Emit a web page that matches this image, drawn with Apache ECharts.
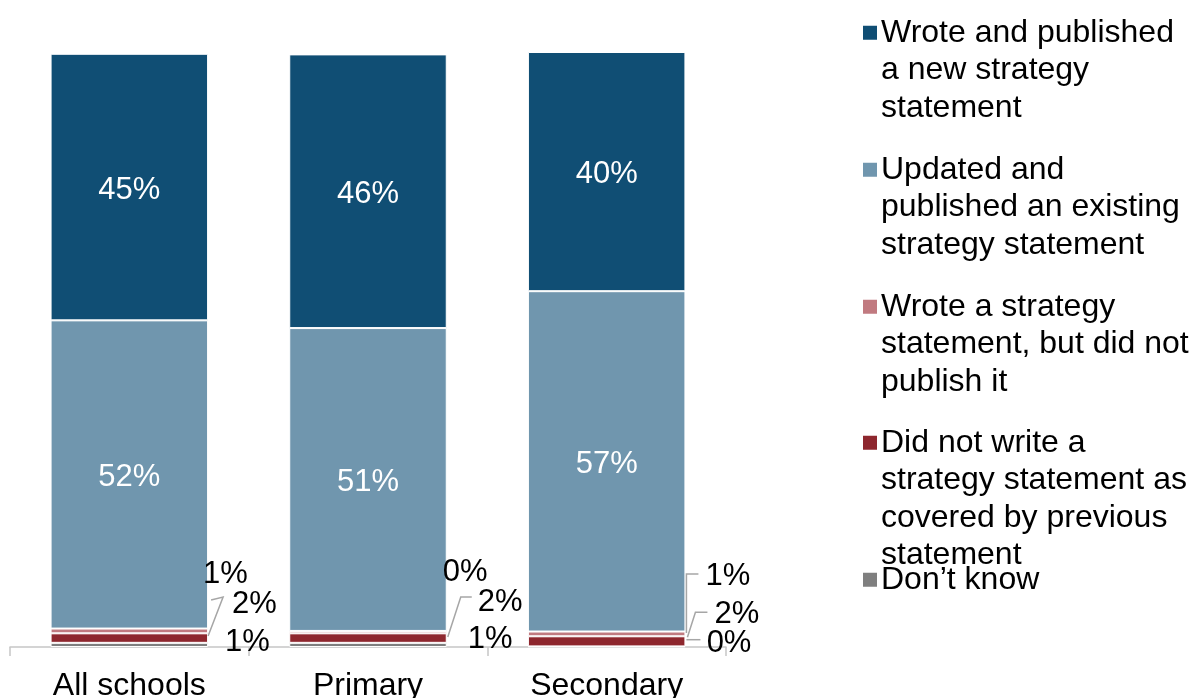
<!DOCTYPE html>
<html>
<head>
<meta charset="utf-8">
<script src="https://cdn.jsdelivr.net/npm/echarts@6/dist/echarts.min.js"></script>
<style>
  html, body { margin: 0; padding: 0; background: #ffffff; }
  #chart { width: 1192px; height: 698px; }
</style>
</head>
<body>
<div id="chart"></div>
<script>
// ---- data (percent of schools) ----
const categories = ['All schools', 'Primary', 'Secondary'];
const seriesNames = [
  'Wrote and published a new strategy statement',
  'Updated and published an existing strategy statement',
  'Wrote a strategy statement, but did not publish it',
  'Did not write a strategy statement as covered by previous statement',
  'Don\u2019t know'
];
const wroteNew          = [44.8, 46.0, 40.2];
const updatedExisting   = [51.8, 50.9, 57.2];
const wroteNotPublished = [0.8, 0.4, 0.8];
const didNotWrite       = [1.6, 1.6, 1.7];
const dontKnow          = [0.7, 0.7, 0.1];

// legend wording broken over lines
const legendLines = [
  ['Wrote and published', 'a new strategy', 'statement'],
  ['Updated and', 'published an existing', 'strategy statement'],
  ['Wrote a strategy', 'statement, but did not', 'publish it'],
  ['Did not write a', 'strategy statement as', 'covered by previous', 'statement'],
  ['Don\u2019t know']
];

const colors = ['#104E74', '#7096AE', '#C17A80', '#8E272E', '#7F7F7F'];
const FONT = '"Liberation Sans", Arial, sans-serif';

// small segments are labelled beside the bar: [dx from bar right edge, dy from segment middle]
const sideLabelOffsets = {
  wroteNotPublished: [[-5, -56], [-4, -60], [20, -57]],
  didNotWrite:       [[24, -34], [31, -36], [29, -27]],
  dontKnow:          [[17, -2], [21, -5], [21, -3]]
};
// leader line points in the same frame (null = no line)
const leaderBends = {
  wroteNotPublished: [null, null, [[1, -1], [1, -60], [13, -60]]],
  didNotWrite: [
    [[0, -2], [15, -41], [3, -38]],
    [[1, -1], [14, -41], [25, -41]],
    [[2, -4], [10, -29], [22, -29]]
  ],
  dontKnow: [null, null, [[1, -7], [15, -7]]]
};
// top edge of each legend entry
const legendTops = [16.75, 153.75, 290.75, 426.75, 563.75];

const BAR_FRACTION = 0.66;
const pct = v => Math.round(v) + '%';

function sideLayout(offsets) {
  return function (params) {
    const r = params.rect;
    const o = offsets[params.dataIndex];
    return {
      x: r.x + r.width + o[0],
      y: r.y + r.height / 2 + o[1],
      align: 'left',
      verticalAlign: 'middle'
    };
  };
}

const insideLabel = {
  show: true, position: 'inside', offset: [0, 3], color: '#ffffff',
  fontSize: 31, fontFamily: FONT, formatter: p => pct(p.value)
};
const sideLabel = {
  show: true, position: 'right', color: '#000000',
  fontSize: 31, fontFamily: FONT, formatter: p => pct(p.value)
};

function barSeries(name, values, color, label, layout) {
  const s = {
    name: name,
    type: 'bar',
    stack: 'total',
    barWidth: (BAR_FRACTION * 100) + '%',
    data: values,
    itemStyle: { color: color, borderColor: '#ffffff', borderWidth: 1 },
    label: label,
    emphasis: { disabled: true }
  };
  if (layout) s.labelLayout = layout;
  return s;
}

// stacked from the bottom up
const stackOrder = [
  { key: 'dontKnow', values: dontKnow },
  { key: 'didNotWrite', values: didNotWrite },
  { key: 'wroteNotPublished', values: wroteNotPublished }
];

// leader lines drawn from the same stacked values through the axes
function renderLeaders(params, api) {
  const i = api.value(0);
  const base = api.coord([i, 0]);
  const halfBar = api.size([1, 0])[0] * BAR_FRACTION / 2;
  const right = base[0] + halfBar;
  const children = [];
  let lower = 0;
  stackOrder.forEach(seg => {
    const upper = lower + seg.values[i];
    const cy = (api.coord([i, lower])[1] + api.coord([i, upper])[1]) / 2;
    const bend = leaderBends[seg.key][i];
    if (bend) {
      children.push({
        type: 'polyline',
        shape: { points: bend.map(p => [right + p[0], cy + p[1]]) },
        style: { stroke: '#A6A6A6', lineWidth: 1.5, fill: null }
      });
    }
    lower = upper;
  });
  return { type: 'group', children: children };
}

function legendFormatter(name) {
  const k = seriesNames.indexOf(name);
  return legendLines[k]
    .map((line, j) => (j === 0 ? '{m' + k + '|}' : '{s|}') + '{t|' + line + '}')
    .join('\n');
}

const legendRich = {
  s: { width: 14, lineHeight: 37.5 },
  t: { fontSize: 32, fontFamily: FONT, color: '#000000', lineHeight: 37.5, padding: [0, 0, 0, 4] }
};
colors.forEach((c, k) => {
  legendRich['m' + k] = { width: 14, height: 14, backgroundColor: c };
});

const legends = seriesNames.map((name, k) => ({
  orient: 'vertical',
  left: 857,
  top: legendTops[k],
  padding: 0,
  itemWidth: 0,
  itemHeight: 0,
  selectedMode: false,
  data: [name],
  formatter: legendFormatter,
  textStyle: { fontSize: 32, fontFamily: FONT, color: '#000000', rich: legendRich }
}));

const chart = echarts.init(document.getElementById('chart'), null, { renderer: 'canvas' });
chart.setOption({
  animation: false,
  backgroundColor: '#ffffff',
  grid: { left: 10, right: 466, top: 52, bottom: 51, containLabel: false, outerBoundsMode: 'none' },
  legend: legends,
  xAxis: {
    type: 'category',
    data: categories,
    axisLine: { lineStyle: { color: '#C6C6C6', width: 1.5 } },
    axisTick: { show: true, length: 9, alignWithLabel: false, lineStyle: { color: '#C6C6C6', width: 1.5 } },
    axisLabel: { color: '#000000', fontSize: 32, fontFamily: FONT, margin: 23, interval: 0 }
  },
  yAxis: {
    type: 'value', min: 0, max: 100,
    show: false,
    splitLine: { show: false }
  },
  series: [
    barSeries(seriesNames[4], dontKnow, colors[4], sideLabel, sideLayout(sideLabelOffsets.dontKnow)),
    barSeries(seriesNames[3], didNotWrite, colors[3], sideLabel, sideLayout(sideLabelOffsets.didNotWrite)),
    barSeries(seriesNames[2], wroteNotPublished, colors[2], sideLabel, sideLayout(sideLabelOffsets.wroteNotPublished)),
    barSeries(seriesNames[1], updatedExisting, colors[1], insideLabel),
    barSeries(seriesNames[0], wroteNew, colors[0], insideLabel),
    {
      name: 'leaders',
      type: 'custom',
      renderItem: renderLeaders,
      data: categories.map((c, i) => [i, 0]),
      encode: { x: 0, y: 1 },
      silent: true,
      z: 3
    }
  ]
});
</script>
</body>
</html>
